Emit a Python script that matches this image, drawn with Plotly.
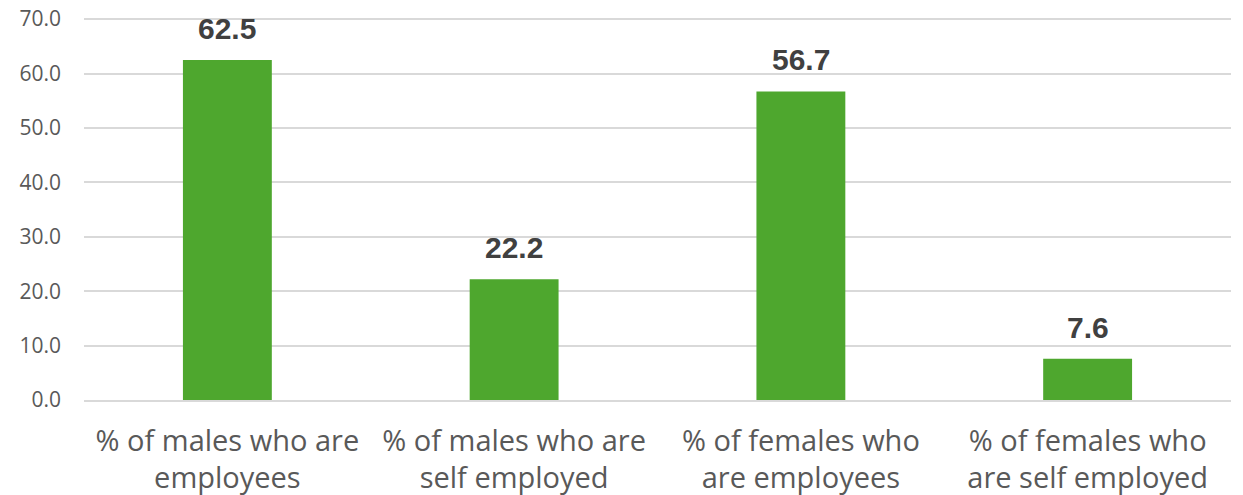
import plotly.graph_objects as go

categories = ["% of males who are<br>employees", "% of males who are<br>self employed",
              "% of females who<br>are employees", "% of females who<br>are self employed"]
values = [62.5, 22.2, 56.7, 7.6]
y_ticks = [0, 10, 20, 30, 40, 50, 60, 70]

fig = go.Figure()
fig.add_trace(go.Bar(x=categories, y=values, marker_color="#4EA72E",
                     marker_line_width=0, width=0.31))

for c, v in zip(categories, values):
    fig.add_annotation(x=c, y=v, text=f"<b>{v:.1f}</b>", showarrow=False,
                       yanchor="bottom", yshift=13,
                       font=dict(family="Liberation Sans", size=30, color="#404040"))

fig.update_layout(
    width=1243, height=495,
    margin=dict(l=84, r=12, t=18, b=95),
    plot_bgcolor="white", paper_bgcolor="white",
    showlegend=False,
    bargap=0.69,
)
fig.update_yaxes(range=[0, 70.2], tickvals=y_ticks, ticktext=[f"{t:.1f}" for t in y_ticks],
                 showgrid=True, gridcolor="#D9D9D9", gridwidth=1.5,
                 zeroline=False, showline=False, automargin=False,
                 tickfont=dict(family="Open Sans", size=21, color="#595959"),
                 ticklabelstandoff=22)
fig.update_xaxes(showline=True, linecolor="#D9D9D9", linewidth=1.5, automargin=False,
                 tickfont=dict(family="Open Sans", size=29, color="#595959"),
                 ticklabelstandoff=14)

fig.write_html("out.html", config={"displayModeBar": False},
               post_script="document.body.style.margin='0';")
